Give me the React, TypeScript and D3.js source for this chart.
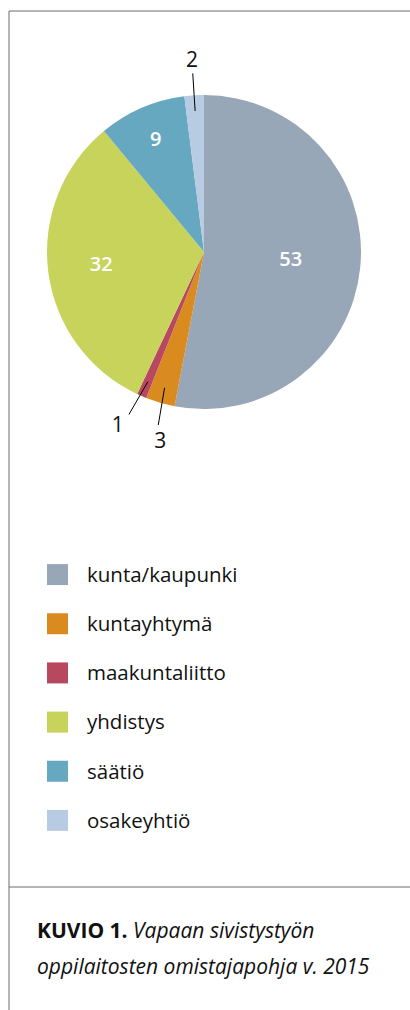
import React from "react";
import * as d3 from "d3";

const categories = ["kunta/kaupunki", "kuntayhtymä", "maakuntaliitto", "yhdistys", "säätiö", "osakeyhtiö"];
const values = [53, 3, 1, 32, 9, 2];
const colors = ["#98a7b7", "#d98b20", "#b7485f", "#c8d35b", "#67a8c1", "#b7cbe3"];
const captionBold = "KUVIO 1.";
const captionLine1 = "Vapaan sivistystyön";
const captionLine2 = "oppilaitosten omistajapohja v. 2015";

const W = 410;
const H = 1010;
const cx = 204;
const cy = 252;
const R = 157;
const FONT = "'Open Sans', 'Noto Sans', sans-serif";
const DEG = Math.PI / 180;

export default function App() {
  const data = categories.map((c, i) => ({ c, v: values[i], color: colors[i] }));
  const pie = d3.pie<any>().value((d) => d.v).sort(null).startAngle(0).endAngle(2 * Math.PI);
  const arcs = pie(data);
  const arc = d3.arc<any>().innerRadius(0).outerRadius(R);
  const total = d3.sum(values);

  const polar = (r: number, a: number) => [r * Math.sin(a), -r * Math.cos(a)];

  // outer labels for small slices, spread apart when too close
  const outer = arcs
    .map((a, i) => ({ i, mid: (a.startAngle + a.endAngle) / 2, share: a.data.v / total }))
    .filter((o) => o.share < 0.05);
  const spread: Record<number, { line: number; text: number }> = {};
  outer.forEach((o) => (spread[o.i] = { line: o.mid, text: o.mid }));
  for (let k = 1; k < outer.length; k++) {
    const a = outer[k - 1];
    const b = outer[k];
    const gap = b.mid - a.mid;
    if (gap < 10 * DEG) {
      const c = (a.mid + b.mid) / 2;
      spread[a.i] = { line: c - 5 * DEG, text: c - 6.7 * DEG };
      spread[b.i] = { line: c + 5 * DEG, text: c + 6.7 * DEG };
    }
  }

  const legendY = d3.scaleBand<number>().domain(d3.range(categories.length)).range([550, 845]);

  return (
    <svg width={W} height={H} style={{ position: "absolute", left: 0, top: 0, background: "#fff" }}>
      <line x1={9} y1={11} x2={W} y2={11} stroke="#6b6b6b" strokeWidth={1} />
      <line x1={9} y1={11} x2={9} y2={H} stroke="#6b6b6b" strokeWidth={1} />
      <line x1={9} y1={887} x2={W} y2={887} stroke="#6b6b6b" strokeWidth={1} />
      <g transform={`translate(${cx},${cy})`}>
        {arcs.map((a, i) => (
          <path key={i} d={arc(a) as string} fill={a.data.color} />
        ))}
        {arcs.map((a, i) => {
          const mid = (a.startAngle + a.endAngle) / 2;
          const share = a.data.v / total;
          if (share >= 0.05) {
            const lr = R * (0.82 - 0.5 * share);
            const [x, y] = polar(lr, mid);
            return (
              <text key={"l" + i} x={x} y={y} dy="0.3em" textAnchor="middle" fill="#fff"
                fontFamily={FONT} fontWeight={600} fontSize={20}>
                {a.data.v}
              </text>
            );
          }
          const s = spread[i];
          const [x1, y1] = polar(R * 0.9, mid);
          const [x2, y2] = polar(R * 1.14, s.line);
          const [tx, ty] = polar(R * 1.23, s.text);
          return (
            <g key={"o" + i}>
              <line x1={x1} y1={y1} x2={x2} y2={y2} stroke="#000" strokeWidth={1} />
              <text x={tx} y={ty} dy="0.36em" textAnchor="middle" fill="#111"
                fontFamily={FONT} fontSize={21}>
                {a.data.v}
              </text>
            </g>
          );
        })}
      </g>
      {categories.map((c, i) => {
        const y = (legendY(i) as number) + legendY.bandwidth() / 2;
        return (
          <g key={"lg" + i}>
            <rect x={47} y={y - 10.5} width={21} height={21} fill={colors[i]} />
            <text x={87} y={y} dy="0.36em" fontFamily={FONT} fontSize={20.5} fill="#111">{c}</text>
          </g>
        );
      })}
      <text x={37} y={938} fontFamily={FONT} fontSize={21} fill="#111">
        <tspan fontWeight={700}>{captionBold}</tspan>
        <tspan fontStyle="italic"> {captionLine1}</tspan>
      </text>
      <text x={37} y={974} fontFamily={FONT} fontSize={21} fill="#111" fontStyle="italic">
        {captionLine2}
      </text>
    </svg>
  );
}
